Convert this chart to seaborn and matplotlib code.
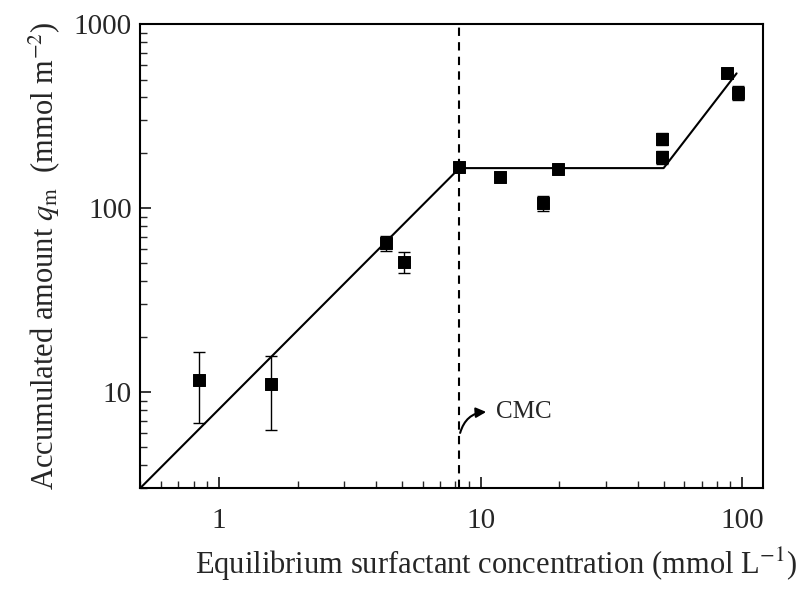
import numpy as np
import pandas as pd
import matplotlib
matplotlib.use('Agg')
import matplotlib.pyplot as plt
import seaborn as sns

# measured points
conc = [0.84, 1.58, 4.36, 5.1, 8.3, 11.9, 17.3, 19.8, 49.5, 49.5, 87.0, 96.0]
qm = [11.7, 11.0, 64.8, 51.0, 167.0, 147.0, 106.0, 164.0, 239.0, 189.0, 542.0, 425.0]
qm_err = [4.9, 4.8, 6.0, 6.5, 0.0, 0.0, 10.0, 0.0, 18.0, 15.0, 0.0, 38.0]

# fitted piecewise line
fit_x = [0.5, 8.3, 50.0, 95.0]
fit_y = [3.0, 165.0, 165.0, 540.0]

cmc = 8.3

df = pd.DataFrame({'conc': conc, 'qm': qm})
fit = pd.DataFrame({'conc': fit_x, 'qm': fit_y})

sns.set_style('ticks')
plt.rcParams['font.family'] = ['Liberation Serif', 'DejaVu Serif']
plt.rcParams['mathtext.fontset'] = 'stix'

fig, ax = plt.subplots(figsize=(8.05, 5.89), dpi=100)
fig.subplots_adjust(left=0.174, right=0.948, top=0.959, bottom=0.171)

sns.lineplot(x='conc', y='qm', data=fit, ax=ax, color='black', lw=1.5, sort=False)
ax.errorbar(conc, qm, yerr=qm_err, fmt='none', ecolor='black', elinewidth=1.0,
            capsize=4, capthick=1.0)
sns.scatterplot(x='conc', y='qm', data=df, ax=ax, marker='s', color='black',
                s=75, edgecolor='black', zorder=5)

ax.axvline(cmc, color='black', ls=(0, (4, 3)), lw=1.5)
ax.annotate('', xy=(10.5, 7.8), xytext=(8.35, 6.0),
            arrowprops=dict(arrowstyle='-|>', color='black', lw=1.5,
                            mutation_scale=15,
                            connectionstyle='arc3,rad=-0.35', shrinkA=0, shrinkB=0))
ax.text(11.4, 7.8, 'CMC', fontsize=18, ha='left', va='center')

ax.set_xscale('log')
ax.set_yscale('log')
ax.set_xlim(0.5, 120)
ax.set_ylim(3, 1000)
ax.set_xticks([1, 10, 100])
ax.set_xticklabels(['1', '10', '100'])
ax.set_yticks([10, 100, 1000])
ax.set_yticklabels(['10', '100', '1000'])

for s in ax.spines.values():
    s.set_linewidth(1.5)
    s.set_color('black')
ax.tick_params(which='major', direction='in', length=8, width=1.3, labelsize=21)
ax.tick_params(axis='x', which='major', pad=14)
ax.tick_params(axis='y', which='major', pad=6)
ax.tick_params(which='minor', direction='in', length=5, width=1.0)

ax.set_xlabel('Equilibrium surfactant concentration (mmol L$^{-1}$)', fontsize=22)
ax.xaxis.set_label_coords(0.572, -0.125)
ax.set_ylabel('Accumulated amount $q_{\\mathrm{m}}$  (mmol m$^{-2}$)', fontsize=22)
ax.yaxis.set_label_coords(-0.125, 0.5)

plt.savefig('out.png', dpi=100)
